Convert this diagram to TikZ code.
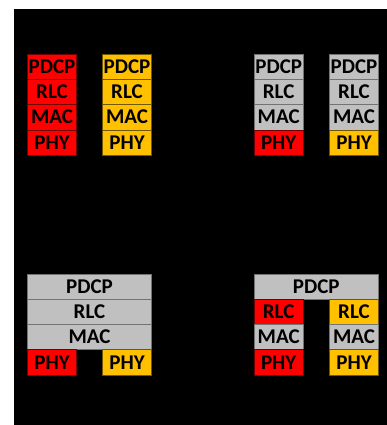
\documentclass[tikz,border=0pt]{standalone}
\usepackage{fontspec}
\setmainfont{Carlito}
\definecolor{lred}{HTML}{FF0000}
\definecolor{lyel}{HTML}{FFC000}
\definecolor{lgray}{HTML}{C0C0C0}
\begin{document}
\begin{tikzpicture}[x=1pt,y=-1pt,
  layer/.style={draw=black!65, line width=0.7pt, inner sep=0pt, minimum height=25.3pt,
    font=\fontsize{21}{21}\selectfont\bfseries, text=black,
    text height=13.2pt, text depth=0pt, anchor=center},
  narrow/.style={layer, minimum width=48.5pt},
  wide/.style={layer, minimum width=123.5pt},
  redl/.style={fill=lred, draw=black!55!lred},
  yell/.style={fill=lyel, draw=black!55!lyel},
  grayl/.style={fill=lgray, draw=black!55}]
\useasboundingbox (0,0) rectangle (387,425);
\fill[white] (0,0) rectangle (387,425);
\fill[black] (14,9) rectangle (387,425);
% top-left
\node[narrow,redl] (a1) at (52,66.7) {PDCP};
\node[narrow,redl] (a2) at (52,92) {RLC};
\node[narrow,redl] (a3) at (52,117.3) {MAC};
\node[narrow,redl] (a4) at (52,142.6) {PHY};
\node[narrow,yell] (b1) at (127,66.7) {PDCP};
\node[narrow,yell] (b2) at (127,92) {RLC};
\node[narrow,yell] (b3) at (127,117.3) {MAC};
\node[narrow,yell] (b4) at (127,142.6) {PHY};
% top-right
\node[narrow,grayl] (c1) at (278.7,66.7) {PDCP};
\node[narrow,grayl] (c2) at (278.7,92) {RLC};
\node[narrow,grayl] (c3) at (278.7,117.3) {MAC};
\node[narrow,redl] (c4) at (278.7,142.6) {PHY};
\node[narrow,grayl] (d1) at (354,66.7) {PDCP};
\node[narrow,grayl] (d2) at (354,92) {RLC};
\node[narrow,grayl] (d3) at (354,117.3) {MAC};
\node[narrow,yell] (d4) at (354,142.6) {PHY};
% bottom-left
\node[wide,grayl] (e1) at (89.5,286.8) {PDCP};
\node[wide,grayl] (e2) at (89.5,311.9) {RLC};
\node[wide,grayl] (e3) at (89.5,337.1) {MAC};
\node[narrow,redl] (e4) at (52,362.4) {PHY};
\node[narrow,yell] (e5) at (127,362.4) {PHY};
% bottom-right
\node[wide,grayl] (f1) at (316.3,286.8) {PDCP};
\node[narrow,redl] (f2) at (278.7,311.9) {RLC};
\node[narrow,grayl] (f3) at (278.7,337.1) {MAC};
\node[narrow,redl] (f4) at (278.7,362.4) {PHY};
\node[narrow,yell] (g2) at (354,311.9) {RLC};
\node[narrow,grayl] (g3) at (354,337.1) {MAC};
\node[narrow,yell] (g4) at (354,362.4) {PHY};
\end{tikzpicture}
\end{document}
